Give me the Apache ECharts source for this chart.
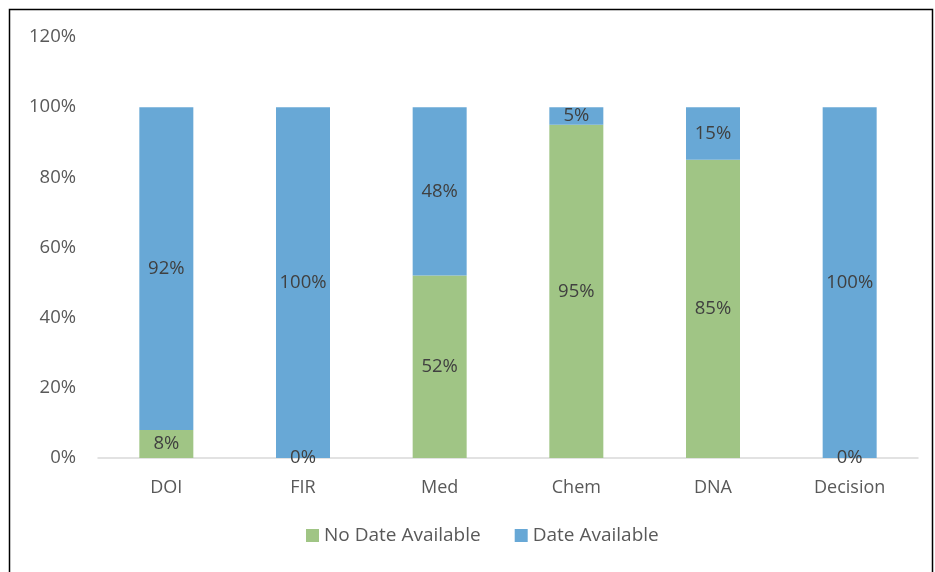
<!DOCTYPE html>
<html>
<head>
<meta charset="utf-8">
<script src="https://cdn.jsdelivr.net/npm/echarts@6/dist/echarts.min.js"></script>
<style>
  html, body { margin: 0; padding: 0; background: #fff; }
  #chart { width: 935px; height: 572px; }
</style>
</head>
<body>
<div id="chart"></div>
<script>
  const categories = ['DOI', 'FIR', 'Med', 'Chem', 'DNA', 'Decision'];
  const noDateAvailable = [8, 0, 52, 95, 85, 0];
  const dateAvailable = [92, 100, 48, 5, 15, 100];
  const yTicks = [0, 20, 40, 60, 80, 100, 120];

  const font = '"Open Sans", "Liberation Sans", sans-serif';
  const labelStyle = {
    show: true,
    position: 'inside',
    formatter: p => p.value + '%',
    color: '#404040',
    fontSize: 18.5,
    fontFamily: font
  };

  const chart = echarts.init(document.getElementById('chart'));
  chart.setOption({
    animation: false,
    graphic: [{
      type: 'rect',
      shape: { x: 9.5, y: 9.5, width: 923, height: 600 },
      style: { fill: 'none', stroke: '#000', lineWidth: 1.5 }
    }],
    grid: { left: 98, right: 17, top: 37, bottom: 114 },
    legend: {
      left: 301,
      bottom: 22,
      itemWidth: 13,
      itemHeight: 13,
      itemGap: 34,
      icon: 'rect',
      textStyle: { color: '#595959', fontSize: 19, fontFamily: font }
    },
    xAxis: {
      type: 'category',
      data: categories,
      axisLine: { lineStyle: { color: '#d9d9d9', width: 1.5 } },
      axisTick: { show: false },
      axisLabel: { color: '#595959', fontSize: 18, fontFamily: font, margin: 21 }
    },
    yAxis: {
      type: 'value',
      min: yTicks[0],
      max: yTicks[yTicks.length - 1],
      interval: 20,
      splitLine: { show: false },
      axisLine: { show: false },
      axisLabel: { color: '#595959', fontSize: 18.5, fontFamily: font, margin: 22, formatter: v => v + '%' }
    },
    series: [{
      name: 'No Date Available',
      type: 'bar',
      stack: 'total',
      barWidth: 54,
      data: noDateAvailable,
      itemStyle: { color: '#A0C585' },
      label: labelStyle
    }, {
      name: 'Date Available',
      type: 'bar',
      stack: 'total',
      barWidth: 54,
      data: dateAvailable,
      itemStyle: { color: '#68A8D6' },
      label: labelStyle
    }]
  });
</script>
</body>
</html>
